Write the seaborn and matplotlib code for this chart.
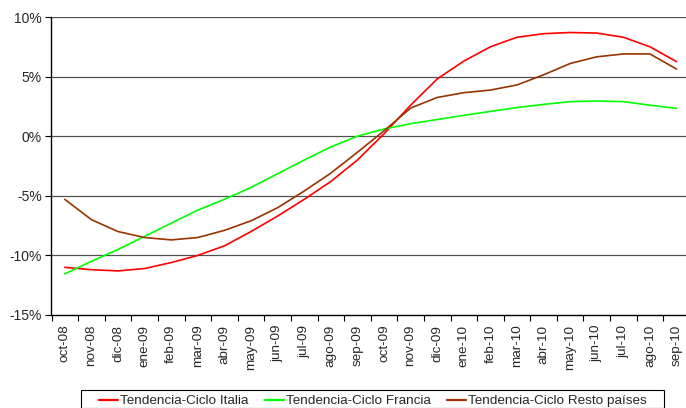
import matplotlib
matplotlib.use('Agg')
import matplotlib.pyplot as plt
import seaborn as sns
import pandas as pd
from matplotlib.ticker import FuncFormatter, FixedLocator
from matplotlib.patches import Rectangle

meses = ['oct-08', 'nov-08', 'dic-08', 'ene-09', 'feb-09', 'mar-09', 'abr-09', 'may-09',
         'jun-09', 'jul-09', 'ago-09', 'sep-09', 'oct-09', 'nov-09', 'dic-09', 'ene-10',
         'feb-10', 'mar-10', 'abr-10', 'may-10', 'jun-10', 'jul-10', 'ago-10', 'sep-10']

italia = [-11.0, -11.2, -11.3, -11.1, -10.6, -10.0, -9.2, -8.0, -6.7, -5.3, -3.8, -2.0,
          0.2, 2.6, 4.8, 6.3, 7.5, 8.3, 8.6, 8.7, 8.65, 8.3, 7.5, 6.25]
francia = [-11.55, -10.5, -9.5, -8.4, -7.3, -6.2, -5.3, -4.3, -3.15, -2.0, -0.9, 0.0,
           0.6, 1.05, 1.4, 1.75, 2.08, 2.4, 2.67, 2.9, 2.95, 2.9, 2.6, 2.33]
resto = [-5.3, -7.0, -8.0, -8.5, -8.7, -8.5, -7.9, -7.1, -6.0, -4.6, -3.1, -1.35,
         0.45, 2.36, 3.25, 3.65, 3.87, 4.3, 5.15, 6.1, 6.66, 6.9, 6.9, 5.63]

series = ['Tendencia-Ciclo Italia', 'Tendencia-Ciclo Francia', 'Tendencia-Ciclo Resto países']
colores = ['#FF0000', '#00FF00', '#993300']

# long format for seaborn
rows = []
for nombre, vals in zip(series, [italia, francia, resto]):
    for i, v in enumerate(vals):
        rows.append({'pos': i, 'valor': v, 'serie': nombre})
df = pd.DataFrame(rows)

sns.set_style('white')
plt.rcParams['font.family'] = ['Liberation Sans', 'DejaVu Sans']

W, H = 686, 408
fig = plt.figure(figsize=(W / 100, H / 100), dpi=100)
ax = fig.add_axes([51.5 / W, 1 - 315 / H, 638.4 / W, 298 / H])

sns.lineplot(data=df, x='pos', y='valor', hue='serie', palette=dict(zip(series, colores)),
             linewidth=1.2, ax=ax, legend=False)

ax.set_xlim(-0.5, 23.5)
ax.set_ylim(-15, 10)
ax.set_xlabel('')
ax.set_ylabel('')

# gridlines
ax.set_yticks([-15, -10, -5, 0, 5, 10])
for y in [-10, -5, 0, 5, 10]:
    ax.axhline(y, color='#505050', lw=0.9, zorder=0)
ax.yaxis.set_major_formatter(FuncFormatter(lambda v, p: '%d%%' % v))

# x ticks: labels at centers, tick marks at boundaries
ax.set_xticks(range(len(meses)))
ax.set_xticklabels(meses, rotation=90, fontsize=9.7)
ax.xaxis.set_minor_locator(FixedLocator([i - 0.5 for i in range(len(meses) + 1)]))
ax.tick_params(axis='x', which='major', length=0, pad=7)
ax.tick_params(axis='x', which='minor', length=4, width=0.8, color='black', direction='out')
ax.tick_params(axis='y', length=4, width=0.8, color='black', direction='out', labelsize=10, pad=3)
ax.xaxis.set_ticks_position('bottom')
ax.yaxis.set_ticks_position('left')

sns.despine(ax=ax, top=True, right=True)
for s in ['left', 'bottom']:
    ax.spines[s].set_color('black')
    ax.spines[s].set_linewidth(1.0)

# legend box drawn separately, entries placed without frame
fig.patches.append(Rectangle((80.5 / W, 0), (663.5 - 80.5) / W, 1 - 390 / H,
                             transform=fig.transFigure, fill=False,
                             edgecolor='black', lw=0.8))
handles = [plt.Line2D([], [], color=c, lw=1.6) for c in colores]
fig.legend(handles, series, loc='upper left', ncol=3,
           bbox_to_anchor=(99 / W, 1 - 395 / H),
           frameon=False, fontsize=9.7, handlelength=1.4,
           handletextpad=0.15, borderaxespad=0, borderpad=0, columnspacing=1.22)

fig.savefig('out.png', dpi=100)
